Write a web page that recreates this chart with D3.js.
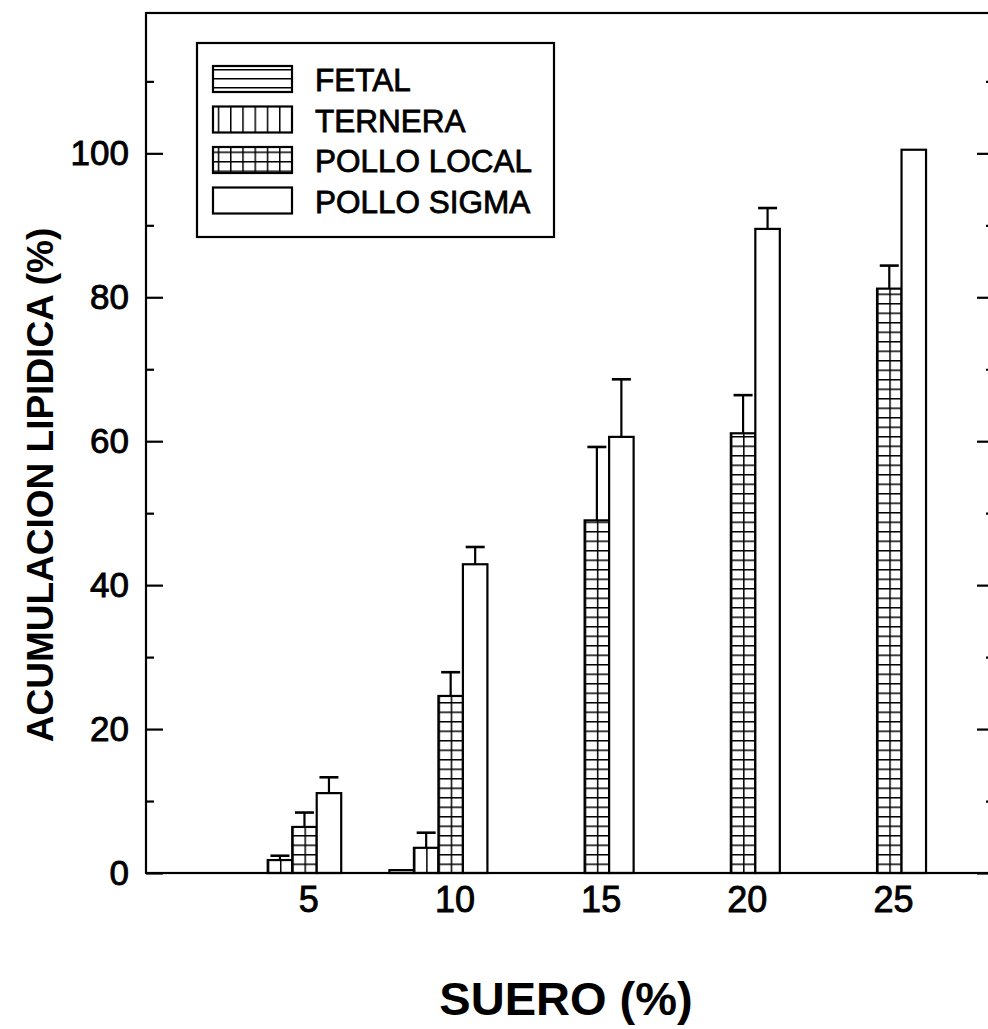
<!DOCTYPE html>
<html>
<head>
<meta charset="utf-8">
<script src="https://cdn.jsdelivr.net/npm/d3@7"></script>
<style>
  html, body { margin: 0; padding: 0; background: #fff; }
  svg text { font-family: "Liberation Sans", Arial, sans-serif; fill: #000; }
</style>
</head>
<body>
<div id="chart"></div>
<script>
// serum levels (x groups)
var groups = [5, 10, 15, 20, 25];
var seriesNames = ["FETAL", "TERNERA", "POLLO LOCAL", "POLLO SIGMA"];

// lipid accumulation (%) and upper error
var fetal = [0, 0.4, 0, 0, 0];
var fetalErr = [0, 0, 0, 0, 0];
var ternera = [1.8, 3.5, 0, 0, 0];
var terneraErr = [0.6, 2.1, 0, 0, 0];
var polloLocal = [6.4, 24.6, 49.0, 61.1, 81.2];
var polloLocalErr = [2.0, 3.3, 10.2, 5.3, 3.2];
var polloSigma = [11.1, 42.9, 60.6, 89.5, 100.5];
var polloSigmaErr = [2.2, 2.4, 8.0, 2.9, 0];

var yMajor = [0, 20, 40, 60, 80, 100];
var yMinor = [10, 30, 50, 70, 90, 110];

var values = [fetal, ternera, polloLocal, polloSigma];
var errors = [fetalErr, terneraErr, polloLocalErr, polloSigmaErr];

var width = 988, height = 1029;
// plot frame (window.top is reserved, so prefixed names)
var plotL = 146, plotR = 994, plotT = 13, plotB = 873;

var svg = d3.select("#chart").append("svg")
    .attr("width", width)
    .attr("height", height);

var x = d3.scaleLinear().domain([0, 29]).range([plotL, plotR]);
var y = d3.scaleLinear().domain([0, 119.5]).range([plotB, plotT]);
// bars inside one group
var inner = d3.scaleBand().domain(seriesNames).range([-49, 49]);
var bw = inner.bandwidth();

var defs = svg.append("defs");

// build a fill pattern for one series, aligned at (ox, oy)
function makePattern(id, s, ox, oy, w) {
  var cw = w / 2, ch = 9.5;
  if (s == 0) { cw = 40; ch = 9; }
  if (s == 1) { ch = 40; }
  var p = defs.append("pattern")
      .attr("id", id)
      .attr("patternUnits", "userSpaceOnUse")
      .attr("x", ox).attr("y", oy)
      .attr("width", cw).attr("height", ch);
  p.append("rect").attr("width", cw).attr("height", ch).attr("fill", "#fff");
  if (s == 0 || s == 2) {
    p.append("line").attr("x1", 0).attr("x2", cw).attr("y1", 0).attr("y2", 0)
      .attr("stroke", "#000").attr("stroke-width", 3);
  }
  if (s == 1 || s == 2) {
    p.append("line").attr("x1", 0).attr("x2", 0).attr("y1", 0).attr("y2", ch)
      .attr("stroke", "#000").attr("stroke-width", 3);
  }
  return "url(#" + id + ")";
}

// flatten data
var bars = [];
values.forEach(function(arr, s) {
  arr.forEach(function(v, i) {
    bars.push({s: s, name: seriesNames[s], g: groups[i], v: v, e: errors[s][i], id: "p" + s + "_" + i});
  });
});
bars = bars.filter(function(d) { return d.v > 0; });

var gBars = svg.append("g");

gBars.selectAll("rect.bar")
  .data(bars)
  .enter().append("rect")
    .attr("class", "bar")
    .attr("x", function(d) { return x(d.g) + inner(d.name); })
    .attr("y", function(d) { return y(d.v); })
    .attr("width", bw)
    .attr("height", function(d) { return y(0) - y(d.v); })
    .attr("fill", function(d) {
      return makePattern(d.id, d.s, x(d.g) + inner(d.name), y(0), bw);
    })
    .attr("stroke", "#000")
    .attr("stroke-width", 2.2);

// upper error bars
var errBars = bars.filter(function(d) { return d.e > 0; });
var eg = gBars.selectAll("g.err").data(errBars).enter().append("g").attr("class", "err");
eg.append("line")
    .attr("x1", function(d) { return x(d.g) + inner(d.name) + bw / 2; })
    .attr("x2", function(d) { return x(d.g) + inner(d.name) + bw / 2; })
    .attr("y1", function(d) { return y(d.v); })
    .attr("y2", function(d) { return y(d.v + d.e); })
    .attr("stroke", "#000").attr("stroke-width", 2.2);
eg.append("line")
    .attr("x1", function(d) { return x(d.g) + inner(d.name) + bw / 2 - 9.5; })
    .attr("x2", function(d) { return x(d.g) + inner(d.name) + bw / 2 + 9.5; })
    .attr("y1", function(d) { return y(d.v + d.e); })
    .attr("y2", function(d) { return y(d.v + d.e); })
    .attr("stroke", "#000").attr("stroke-width", 2.6);

// frame: left, bottom, top, right
svg.append("rect")
    .attr("x", plotL).attr("y", plotT)
    .attr("width", plotR - plotL).attr("height", plotB - plotT)
    .attr("fill", "none").attr("stroke", "#000").attr("stroke-width", 2.2);

// y axis, ticks pointing inwards
var yAxis = svg.append("g")
    .attr("transform", "translate(" + plotL + ",0)")
    .call(d3.axisLeft(y).tickValues(yMajor).tickSize(-17).tickPadding(17).tickSizeOuter(0));
var yAxisMinor = svg.append("g")
    .attr("transform", "translate(" + plotL + ",0)")
    .call(d3.axisLeft(y).tickValues(yMinor).tickSize(-8).tickFormat("").tickSizeOuter(0));
var yAxisR = svg.append("g")
    .attr("transform", "translate(" + plotR + ",0)")
    .call(d3.axisRight(y).tickValues(yMajor).tickSize(-17).tickFormat("").tickSizeOuter(0));
var yAxisRMinor = svg.append("g")
    .attr("transform", "translate(" + plotR + ",0)")
    .call(d3.axisRight(y).tickValues(yMinor).tickSize(-8).tickFormat("").tickSizeOuter(0));

[yAxis, yAxisMinor, yAxisR, yAxisRMinor].forEach(function(a) {
  a.select(".domain").remove();
  a.selectAll(".tick line").attr("stroke", "#000").attr("stroke-width", 2.2);
});
yAxis.selectAll(".tick text")
    .attr("font-size", 35)
    .attr("font-family", "Liberation Sans, Arial, sans-serif")
    .style("stroke", "#000").style("stroke-width", 0.9);

// x axis, labels only (they sit a bit right of the groups in the original)
var xAxis = svg.append("g")
    .attr("transform", "translate(16," + plotB + ")")
    .call(d3.axisBottom(x).tickValues(groups).tickSize(0).tickPadding(13).tickSizeOuter(0));
xAxis.select(".domain").remove();
xAxis.selectAll(".tick text")
    .attr("font-size", 36)
    .attr("font-family", "Liberation Sans, Arial, sans-serif")
    .style("stroke", "#000").style("stroke-width", 0.9);

// axis titles
svg.append("text")
    .attr("transform", "translate(53,485) rotate(-90)")
    .attr("text-anchor", "middle")
    .attr("font-size", 37)
    .attr("font-weight", "bold")
    .text("ACUMULACION LIPIDICA (%)");

svg.append("text")
    .attr("x", 566)
    .attr("y", 1015)
    .attr("text-anchor", "middle")
    .attr("font-size", 47)
    .attr("font-weight", "bold")
    .text("SUERO (%)");

// legend
var legend = svg.append("g");
legend.append("rect")
    .attr("x", 197).attr("y", 43)
    .attr("width", 357).attr("height", 194)
    .attr("fill", "#fff").attr("stroke", "#000").attr("stroke-width", 2.2);

var li = legend.selectAll("g.item").data(seriesNames).enter().append("g").attr("class", "item")
    .attr("transform", function(d, i) { return "translate(213," + (66 + i * 40.5) + ")"; });
li.append("rect")
    .attr("width", 79).attr("height", 26)
    .attr("fill", function(d, i) { return makePattern("leg" + i, i, 213, 66 + i * 40.5, 24.5); })
    .attr("stroke", "#000").attr("stroke-width", 2.2);
li.append("text")
    .attr("x", 102).attr("y", 25)
    .attr("font-size", 31.5)
    .style("stroke", "#000").style("stroke-width", 0.8)
    .text(function(d) { return d; });
</script>
</body>
</html>
